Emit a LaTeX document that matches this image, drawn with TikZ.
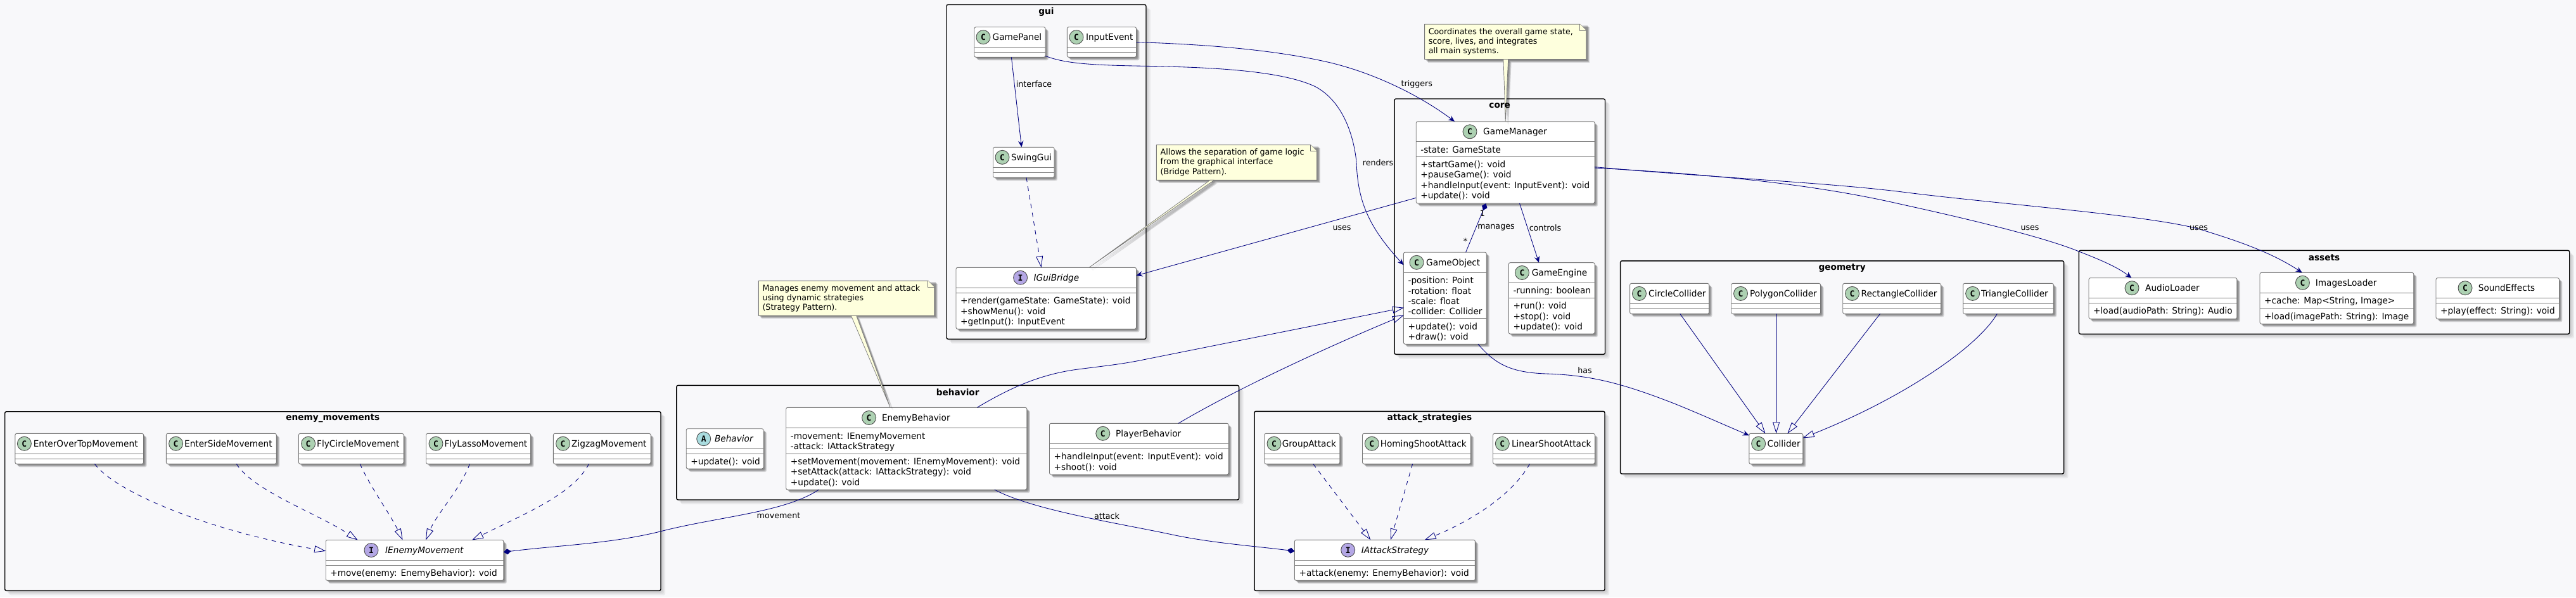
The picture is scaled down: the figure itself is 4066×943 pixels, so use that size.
\documentclass[tikz,border=0pt]{standalone}
\usepackage{fontspec}
\setmainfont[FakeStretch=0.975]{DejaVu Sans}
\newfontfamily\circfont{DejaVu Sans Mono}
\usetikzlibrary{arrows.meta}
\definecolor{bgc}{HTML}{F8F8FA}
\definecolor{navyc}{HTML}{000080}
\definecolor{boxc}{HTML}{777777}
\definecolor{notec}{HTML}{FEFFDD}
\definecolor{clsc}{HTML}{ADD1B2}
\definecolor{ifc}{HTML}{B4A7E5}
\definecolor{absc}{HTML}{A9DCDF}
\tikzset{
 classbox/.style={draw=boxc,fill=white,line width=.9pt,rounded corners=2.5pt,inner sep=0,outer sep=0},
 sepline/.style={draw=boxc,line width=.9pt},
 pkgbox/.style={draw=black,fill=bgc,line width=1.4pt,rounded corners=2.5pt,inner sep=0,outer sep=0},
 ptitle/.style={font=\fontsize{14}{16}\selectfont\bfseries,inner sep=0,anchor=center},
 circ/.style={circle,draw=black!70,line width=.9pt,minimum size=22pt,inner sep=0,font=\circfont\fontsize{13}{14}\selectfont\bfseries},
 cname/.style={anchor=base west,inner sep=0,font=\fontsize{14}{16}\selectfont},
 iname/.style={anchor=base west,inner sep=0,font=\fontsize{14}{16}\selectfont\itshape},
 mem/.style={anchor=base west,inner sep=0,font=\fontsize{14}{16}\selectfont},
 lbl/.style={inner sep=0,anchor=center,font=\fontsize{13}{15}\selectfont},
 notetext/.style={anchor=north west,inner sep=0,align=left,font=\fontsize{13}{15.2}\selectfont},
 noteframe/.style={draw=boxc,fill=notec,line width=.9pt,line join=round},
 wedge/.style={draw=boxc,fill=notec,line width=.7pt,line join=round},
 conn/.style={draw=navyc,line width=.85pt},
 assoc/.style={conn,-{Stealth[length=10pt,width=8.5pt,inset=3.5pt]}},
 ext/.style={conn,-{Triangle[open,length=18pt,width=11pt,line width=.85pt]}},
 impl/.style={ext,dash pattern=on 7pt off 7pt},
 comp/.style={conn,-{Diamond[length=12pt,width=9pt]}},
 compstart/.style={conn,{Diamond[length=12pt,width=9pt]}-},
 o/.style 2 args={xshift=#1pt,yshift=-#2pt},
}
\newcommand{\pkg}[5]{%
 \foreach \s in {3,5,7}{\fill[black,opacity=.055,rounded corners=2.5pt] ({#2+\s},{#3+\s}) rectangle ({#4+\s},{#5+\s});}
 \pgfmathsetmacro\bw{#4-#2}\pgfmathsetmacro\bh{#5-#3}
 \node[pkgbox,minimum width=\bw pt,minimum height=\bh pt,anchor=north west] (#1) at (#2,#3) {};
}
\newcommand{\ptl}[2]{\node[ptitle] (#1-t) at ([yshift=-11pt]#1.north) {#2};}
\newcommand{\cbox}[7]{%
 \foreach \s in {2,3,4,5}{\fill[black,opacity=.13,rounded corners=2.5pt] ({#2+\s},{#3+\s}) rectangle ({#4+\s},{#5+\s});}
 \pgfmathsetmacro\bw{#4-#2}\pgfmathsetmacro\bh{#5-#3}
 \node[classbox,minimum width=\bw pt,minimum height=\bh pt,anchor=north west] (#1) at (#2,#3) {};
 \draw[sepline] (#2,#6) -- (#4,#6);
 \draw[sepline] (#2,#7) -- (#4,#7);
}
% id, circle left x, header y centre, letter, fill, name left x, style, name
\newcommand{\chead}[8]{%
 \node[circ,fill=#5] (#1-c) at ({#2+11},#3) {#4};
 \node[#7] (#1-n) at (#6,{#3+5}) {#8};
}
% id, left x, compartment line y, items
\newcommand{\cmem}[4]{%
 \foreach \t [count=\i] in {#4}{\node[mem] (#1-\i) at ({#2+7},{#3+17.4+(\i-1)*16.3}) {\t};}
}
% id, x1,y1,x2,y2,text
\newcommand{\notebox}[6]{%
 \foreach \s in {2,3,4,5}{\fill[black,opacity=.13] ({#2+\s},{#3+\s}) rectangle ({#4+\s},{#5+\s});}
 \draw[noteframe] (#2,#3) -- ({#4-10},#3) -- (#4,{#3+10}) -- (#4,#5) -- (#2,#5) -- cycle;
 \draw[noteframe] ({#4-10},#3) -- ({#4-10},{#3+10}) -- (#4,{#3+10});
 \pgfmathsetmacro\bw{#4-#2}\pgfmathsetmacro\bh{#5-#3}
 \node[inner sep=0,outer sep=0,minimum width=\bw pt,minimum height=\bh pt,anchor=north west] (#1) at (#2,#3) {};
 \node[notetext] (#1-x) at ({#2+6},{#3+6}) {#6};
}
% note id, base left offset, base right offset, target, target offset
\newcommand{\notewedge}[5]{%
 \foreach \s in {2,3,4,5}{\fill[black,opacity=.13] ([xshift=#2pt+\s pt,yshift=-\s pt]#1.south west) -- ([xshift=#3pt+\s pt,yshift=-\s pt]#1.south west) -- ([xshift=#5pt+\s pt,yshift=-\s pt]#4.north west) -- cycle;}
 \filldraw[wedge] ([xshift=#2pt]#1.south west) -- ([xshift=#3pt]#1.south west) -- ([xshift=#5pt]#4.north west) -- cycle;
}
\begin{document}
\begin{tikzpicture}[x=1pt,y=-1pt]
\useasboundingbox (0,0) rectangle (4066,943);
\fill[bgc] (0,0) rectangle (4066,943);
% packages
\pkg{gui}{1494}{7.3}{1809}{535.3}
\pkg{core}{2200.8}{156}{2533.5}{559.3}
\pkg{geometry}{2557.6}{411.8}{3257.6}{748}
\pkg{assets}{3281.4}{395.3}{4055.7}{527.3}
\pkg{behavior}{1067.9}{608.3}{1955.6}{789}
\pkg{enemymovements}{7.7}{649.7}{1043}{932.5}
\pkg{attackstrategies}{1979.8}{649.3}{2533}{932.5}
% notes
\notebox{noteA}{1825.4}{228.7}{2078.6}{284.3}{Allows the separation of game logic\\from the graphical interface\\(Bridge Pattern).}
\notebox{noteB}{1197.3}{443.3}{1474.7}{498.3}{Manages enemy movement and attack\\using dynamic strategies\\(Strategy Pattern).}
\notebox{noteC}{2248.6}{38.2}{2503.7}{93.6}{Coordinates the overall game state,\\score, lives, and integrates\\all main systems.}
% classes
\cbox{GamePanel}{1538}{42.7}{1650}{90.3}{74.7}{82.7}
\cbox{InputEvent}{1684.4}{42.7}{1793.5}{90.3}{74.7}{82.7}
\cbox{SwingGui}{1567.7}{232.3}{1664}{280.3}{264.3}{272.3}
\cbox{IGuiBridge}{1509}{422.3}{1793.5}{519.3}{454.3}{462.3}
\cbox{GameManager}{2235.2}{191.8}{2517}{321}{223.6}{247.1}
\cbox{GameObject}{2215.4}{398.2}{2346.2}{543.2}{430.4}{502.9}
\cbox{GameEngine}{2381.3}{414.6}{2517}{527.1}{446.4}{470.4}
\cbox{CircleCollider}{2572.6}{447.4}{2697.6}{495.4}{479.4}{487.4}
\cbox{PolygonCollider}{2732.7}{447.4}{2873.6}{495.4}{479.4}{487.4}
\cbox{RectangleCollider}{2908.7}{447.4}{3063.6}{495.4}{479.4}{487.4}
\cbox{TriangleCollider}{3098.6}{447.4}{3241.3}{495.4}{479.4}{487.4}
\cbox{Collider}{2760.8}{684.3}{2845.7}{732.3}{716.3}{724.3}
\cbox{AudioLoader}{3297}{438.7}{3530.9}{503.3}{470.3}{478.3}
\cbox{ImagesLoader}{3567}{430.3}{3809.7}{511.3}{462.3}{487.3}
\cbox{SoundEffects}{3845}{438.7}{4039.4}{503.3}{470.3}{478.3}
\cbox{Behavior}{1083.2}{676.7}{1205}{740}{708.4}{716.4}
\cbox{EnemyBehavior}{1240.7}{643.3}{1620.8}{773}{675.7}{716}
\cbox{PlayerBehavior}{1656.5}{668.3}{1939}{749}{700.3}{708.3}
\cbox{EnterOverTopMovement}{23.9}{684.3}{226.6}{732.3}{716.3}{724.3}
\cbox{EnterSideMovement}{262.4}{684.3}{436.3}{732.3}{716.3}{724.3}
\cbox{FlyCircleMovement}{471.4}{684.3}{637}{732.3}{716.3}{724.3}
\cbox{FlyLassoMovement}{672.7}{684.3}{837.6}{732.3}{716.3}{724.3}
\cbox{ZigzagMovement}{873.4}{684.3}{1027}{732.3}{716.3}{724.3}
\cbox{IEnemyMovement}{514.2}{852.5}{794.8}{916.3}{884.4}{892.4}
\cbox{GroupAttack}{1995.8}{684.3}{2114.8}{732.3}{716.3}{724.3}
\cbox{HomingShootAttack}{2150.5}{684.3}{2321.4}{732.3}{716.3}{724.3}
\cbox{LinearShootAttack}{2356.5}{684.3}{2517.2}{732.3}{716.3}{724.3}
\cbox{IAttackStrategy}{2043.4}{852.3}{2328.4}{916.3}{884.3}{892.3}
% note wedges
\notewedge{noteA}{84.6}{91.2}{IGuiBridge}{210}
\notewedge{noteB}{146.1}{154.4}{EnemyBehavior}{164.5}
\notewedge{noteC}{124.4}{132}{GameManager}{141}
% connectors
\draw[assoc] ([xshift=58.4pt]GamePanel.south west) -- ([xshift=44.7pt]SwingGui.north west);
\draw[assoc] (InputEvent.east) .. controls (1900,70) and (2010,78) .. (2100,99) .. controls (2170,116) and (2240,150) .. ([xshift=60.8pt]GameManager.north west);
\draw[assoc] ([yshift=2pt]GamePanel.south east) .. controls (1680,100) and (1720,103) .. (1808,104.3) .. controls (1900,106) and (2020,110) .. (2076,136.7) .. controls (2120,160) and (2137,215) .. (2141,256) .. controls (2143,320) and (2162,360) .. ([o={0}{20.1}]GameObject.north west);
\draw[impl] ([xshift=52.3pt]SwingGui.south west) -- ([xshift=134.6pt]IGuiBridge.north west);
\draw[assoc] ([o={0}{120.5}]GameManager.north west) -- ([o={284.5}{12.7}]IGuiBridge.north west);
\draw[compstart] ([xshift=110.3pt]GameManager.south west) -- ([xshift=98.2pt]GameObject.north west);
\draw[assoc] ([xshift=163.3pt]GameManager.south west) -- ([xshift=47.7pt]GameEngine.north west);
\draw[assoc] ([o={281.8}{73.2}]GameManager.north west) .. controls (2700,275) and (2860,290) .. (3000,322.3) .. controls (3090,342) and (3210,370) .. (3272,393.3) .. controls (3310,408) and (3340,420) .. ([xshift=67.4pt]AudioLoader.north west);
\draw[assoc] ([o={281.8}{71.8}]GameManager.north west) .. controls (2700,280) and (2880,288) .. (3000,302.7) .. controls (3150,322) and (3400,340) .. (3476,363) .. controls (3520,377) and (3580,395) .. ([xshift=66.6pt]ImagesLoader.north west);
\draw[ext] ([xshift=301.6pt]EnemyBehavior.north west) .. controls (1590,615) and (1640,590) .. (1707,582.3) .. controls (1740,578) and (1770,575) .. (1802.6,568.3) -- ([o={0.5}{87.5}]GameObject.north west);
\draw[ext] ([xshift=203.5pt]PlayerBehavior.north west) .. controls (1950,615) and (2090,550) .. ([o={0.5}{99.3}]GameObject.north west);
\draw[comp] ([xshift=51.6pt]EnemyBehavior.south west) .. controls (1240,808) and (1140,815) .. (1050,837) .. controls (970,858) and (890,860) .. ([yshift=-19pt]IEnemyMovement.north east);
\draw[comp] ([xshift=329.1pt]EnemyBehavior.south west) .. controls (1630,805) and (1760,825) .. (1847,843.3) .. controls (1910,857) and (1980,862) .. ([o={0}{17.7}]IAttackStrategy.north west);
\draw[assoc] ([xshift=117.6pt]GameObject.south west) .. controls (2360,575) and (2385,588) .. (2440,590) .. controls (2510,592) and (2560,605) .. (2640,636) .. controls (2680,652) and (2720,670) .. ([o={0}{3}]Collider.north west);
\draw[ext] ([xshift=79.2pt]CircleCollider.south west) -- ([xshift=25.6pt]Collider.north west);
\draw[ext] ([xshift=70.9pt]PolygonCollider.south west) -- ([xshift=42.8pt]Collider.north west);
\draw[ext] ([xshift=58.8pt]RectangleCollider.south west) -- ([xshift=60.6pt]Collider.north west);
\draw[ext] ([xshift=53.7pt]TriangleCollider.south west) .. controls (3120,550) and (3000,630) .. ([o={84.9}{7}]Collider.north west);
\draw[impl] ([xshift=125.5pt]EnterOverTopMovement.south west) .. controls (185,780) and (340,840) .. ([o={0}{17.3}]IEnemyMovement.north west);
\draw[impl] ([xshift=110.8pt]EnterSideMovement.south west) .. controls (400,775) and (500,810) .. ([xshift=50.5pt]IEnemyMovement.north west);
\draw[impl] ([xshift=96.8pt]FlyCircleMovement.south west) .. controls (585,770) and (615,810) .. ([xshift=121.4pt]IEnemyMovement.north west);
\draw[impl] ([xshift=68.8pt]FlyLassoMovement.south west) .. controls (725,775) and (690,810) .. ([xshift=157.8pt]IEnemyMovement.north west);
\draw[impl] ([xshift=56.1pt]ZigzagMovement.south west) .. controls (905,780) and (830,810) .. ([xshift=230.8pt]IEnemyMovement.north west);
\draw[impl] ([xshift=76.9pt]GroupAttack.south west) -- ([xshift=119.9pt]IAttackStrategy.north west);
\draw[impl] ([xshift=79.1pt]HomingShootAttack.south west) -- ([xshift=151.6pt]IAttackStrategy.north west);
\draw[impl] ([xshift=58pt]LinearShootAttack.south west) .. controls (2385,785) and (2315,825) .. ([xshift=205.3pt]IAttackStrategy.north west);
% package titles
\ptl{gui}{gui}
\ptl{core}{core}
\ptl{geometry}{geometry}
\ptl{assets}{assets}
\ptl{behavior}{behavior}
\ptl{enemymovements}{enemy\_movements}
\ptl{attackstrategies}{attack\_strategies}
% class heads
\chead{GamePanel}{1541}{58.7}{C}{clsc}{1566.5}{cname}{GamePanel}
\chead{InputEvent}{1688}{58.7}{C}{clsc}{1713.8}{cname}{InputEvent}
\chead{SwingGui}{1571}{248.3}{C}{clsc}{1595.8}{cname}{SwingGui}
\chead{IGuiBridge}{1599.6}{438.3}{I}{ifc}{1631.5}{iname}{IGuiBridge}
\chead{GameManager}{2309}{207.8}{C}{clsc}{2341}{cname}{GameManager}
\chead{GameObject}{2225}{414.3}{C}{clsc}{2251}{cname}{GameObject}
\chead{GameEngine}{2391.4}{430.5}{C}{clsc}{2417.6}{cname}{GameEngine}
\chead{CircleCollider}{2576.4}{463.4}{C}{clsc}{2602}{cname}{CircleCollider}
\chead{PolygonCollider}{2736.5}{463.4}{C}{clsc}{2762}{cname}{PolygonCollider}
\chead{RectangleCollider}{2912.5}{463.4}{C}{clsc}{2937.4}{cname}{RectangleCollider}
\chead{TriangleCollider}{3102.6}{463.4}{C}{clsc}{3127}{cname}{TriangleCollider}
\chead{Collider}{2764.6}{700.3}{C}{clsc}{2789.5}{cname}{Collider}
\chead{AudioLoader}{3354}{454.7}{C}{clsc}{3386}{cname}{AudioLoader}
\chead{ImagesLoader}{3623.4}{446.3}{C}{clsc}{3654.6}{cname}{ImagesLoader}
\chead{SoundEffects}{3880}{454.7}{C}{clsc}{3911.6}{cname}{SoundEffects}
\chead{Behavior}{1099.7}{692.7}{A}{absc}{1127.8}{iname}{Behavior}
\chead{EnemyBehavior}{1360.6}{659.5}{C}{clsc}{1391.8}{cname}{EnemyBehavior}
\chead{PlayerBehavior}{1729.8}{684.3}{C}{clsc}{1761}{cname}{PlayerBehavior}
\chead{EnterOverTopMovement}{27.4}{700.3}{C}{clsc}{52.6}{cname}{EnterOverTopMovement}
\chead{EnterSideMovement}{266.6}{700.3}{C}{clsc}{291}{cname}{EnterSideMovement}
\chead{FlyCircleMovement}{475.6}{700.3}{C}{clsc}{500}{cname}{FlyCircleMovement}
\chead{FlyLassoMovement}{677}{700.3}{C}{clsc}{701.5}{cname}{FlyLassoMovement}
\chead{ZigzagMovement}{877.6}{700.3}{C}{clsc}{902}{cname}{ZigzagMovement}
\chead{IEnemyMovement}{575}{868.5}{I}{ifc}{608}{iname}{IEnemyMovement}
\chead{GroupAttack}{2000}{700.3}{C}{clsc}{2023.6}{cname}{GroupAttack}
\chead{HomingShootAttack}{2154.3}{700.3}{C}{clsc}{2178.6}{cname}{HomingShootAttack}
\chead{LinearShootAttack}{2360.3}{700.3}{C}{clsc}{2385.8}{cname}{LinearShootAttack}
\chead{IAttackStrategy}{2116.7}{868.3}{I}{ifc}{2148.6}{iname}{IAttackStrategy}
% members
\cmem{IGuiBridge-m}{1509}{462.3}{+render(gameState: GameState): void,+showMenu(): void,+getInput(): InputEvent}
\cmem{GameManager-a}{2235.2}{223.6}{-state: GameState}
\cmem{GameManager-m}{2235.2}{247.1}{+startGame(): void,+pauseGame(): void,+handleInput(event: InputEvent): void,+update(): void}
\cmem{GameObject-a}{2215.4}{430.4}{-position: Point,-rotation: float,-scale: float,-collider: Collider}
\cmem{GameObject-m}{2215.4}{502.9}{+update(): void,+draw(): void}
\cmem{GameEngine-a}{2381.3}{446.4}{-running: boolean}
\cmem{GameEngine-m}{2381.3}{470.4}{+run(): void,+stop(): void,+update(): void}
\cmem{AudioLoader-m}{3297}{478.3}{+load(audioPath: String): Audio}
\cmem{ImagesLoader-a}{3567}{462.3}{{+cache: Map<String, Image>}}
\cmem{ImagesLoader-m}{3567}{487.3}{+load(imagePath: String): Image}
\cmem{SoundEffects-m}{3845}{478.3}{+play(effect: String): void}
\cmem{Behavior-m}{1083.2}{716.4}{+update(): void}
\cmem{EnemyBehavior-a}{1240.7}{675.7}{-movement: IEnemyMovement,-attack: IAttackStrategy}
\cmem{EnemyBehavior-m}{1240.7}{716}{+setMovement(movement: IEnemyMovement): void,+setAttack(attack: IAttackStrategy): void,+update(): void}
\cmem{PlayerBehavior-m}{1656.5}{708.3}{+handleInput(event: InputEvent): void,+shoot(): void}
\cmem{IEnemyMovement-m}{514.2}{892.4}{+move(enemy: EnemyBehavior): void}
\cmem{IAttackStrategy-m}{2043.4}{892.3}{+attack(enemy: EnemyBehavior): void}
% link labels
\node[lbl] (lInterface) at (1632,132.7) {interface};
\node[lbl] (lTriggers) at (2236.3,133) {triggers};
\node[lbl] (lRenders) at (2175,256.7) {renders};
\node[lbl] (lUsesA) at (2118,360) {uses};
\node[lbl] (lManages) at (2361.5,359.6) {manages};
\node[lbl] (lControls) at (2439,359.6) {controls};
\node[lbl] (lOne) at (2339.8,336.4) {1};
\node[lbl] (lStar) at (2313,381) {*};
\node[lbl] (lUsesB) at (3204,360) {uses};
\node[lbl] (lUsesC) at (3470.5,360) {uses};
\node[lbl] (lMovement) at (1229,814.3) {movement};
\node[lbl] (lAttack) at (1747,814.3) {attack};
\node[lbl] (lHas) at (2501.5,584.7) {has};
\end{tikzpicture}
\end{document}
